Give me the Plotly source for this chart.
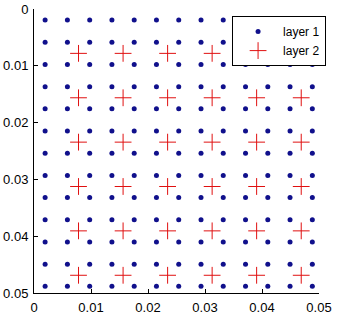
import plotly.graph_objects as go

# Data
layer1_coords = [0.00195, 0.00586, 0.00977, 0.01367, 0.01758, 0.02148, 0.02539,
                 0.02930, 0.03320, 0.03711, 0.04102, 0.04492, 0.04883]
layer2_coords = [0.00781, 0.01563, 0.02344, 0.03125, 0.03906, 0.04688]
tick_vals = [0, 0.01, 0.02, 0.03, 0.04, 0.05]
tick_text = ["0", "0.01", "0.02", "0.03", "0.04", "0.05"]
series_names = ["layer 1", "layer 2"]

l1x = [x for y in layer1_coords for x in layer1_coords]
l1y = [y for y in layer1_coords for x in layer1_coords]
l2x = [x for y in layer2_coords for x in layer2_coords]
l2y = [y for y in layer2_coords for x in layer2_coords]

FONT = "Liberation Sans, Arial, sans-serif"

fig = go.Figure()
fig.add_trace(go.Scatter(
    x=l1x, y=l1y, mode="markers", name=series_names[0],
    marker=dict(symbol="circle", size=5, color="#10108c", line=dict(width=0)),
))
fig.add_trace(go.Scatter(
    x=l2x, y=l2y, mode="markers", name=series_names[1],
    marker=dict(symbol="cross-thin", size=12, color="#e01010",
                line=dict(width=1, color="#e01010")),
))

axis_common = dict(
    showgrid=False, zeroline=False, showline=True, linecolor="black", linewidth=1,
    mirror=False, ticks="inside", ticklen=4, tickcolor="black", tickwidth=1,
    tickvals=tick_vals, ticktext=tick_text, automargin=False,
    tickfont=dict(family=FONT, size=13, color="black"),
)

fig.update_layout(
    template="none",
    width=337, height=316,
    margin=dict(l=34, r=18, t=9, b=23),
    paper_bgcolor="white", plot_bgcolor="white",
    xaxis=dict(range=[0, 0.05], ticklabelstandoff=2, **axis_common),
    yaxis=dict(range=[0.05, 0], ticklabelstandoff=2, **axis_common),
    showlegend=True,
    legend=dict(
        x=0.695, y=0.975, xanchor="left", yanchor="top",
        bgcolor="white", bordercolor="black", borderwidth=1,
        font=dict(family=FONT, size=12, color="black"),
        itemwidth=40, tracegroupgap=0,
        entrywidth=43, entrywidthmode="pixels",
    ),
)

fig.write_html("out.html")
